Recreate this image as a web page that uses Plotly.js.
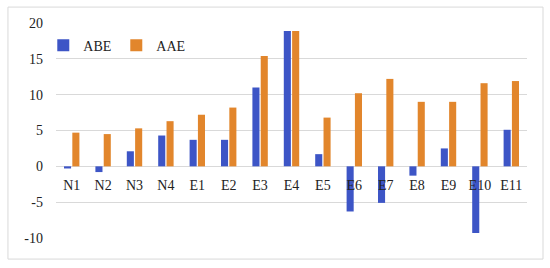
<!DOCTYPE html>
<html>
<head>
<meta charset="utf-8">
<script src="https://cdn.plot.ly/plotly-3.0.1.min.js"></script>
<style>
  body { margin: 0; background: #fff; }
  #plot { width: 550px; height: 268px; }
</style>
</head>
<body>
<div id="plot"></div>
<script>
const categories = ['N1', 'N2', 'N3', 'N4', 'E1', 'E2', 'E3', 'E4', 'E5', 'E6', 'E7', 'E8', 'E9', 'E10', 'E11'];

const abeValues = [-0.3, -0.8, 2.1, 4.3, 3.7, 3.7, 11.0, 18.9, 1.7, -6.3, -5.1, -1.3, 2.5, -9.3, 5.1];

const aaeValues = [4.7, 4.5, 5.3, 6.3, 7.2, 8.2, 15.4, 18.9, 6.8, 10.2, 12.2, 9.0, 9.0, 11.6, 11.9];

const yTicks = [-10, -5, 0, 5, 10, 15, 20];

document.addEventListener('DOMContentLoaded', function () {
  const font = { family: '"Liberation Serif", "DejaVu Serif", serif', size: 14, color: '#222' };

  const traces = [
    {
      x: categories,
      y: abeValues,
      type: 'bar',
      name: 'ABE',
      marker: { color: '#3d55c6' }
    },
    {
      x: categories,
      y: aaeValues,
      type: 'bar',
      name: 'AAE',
      marker: { color: '#e2862c' }
    }
  ];

  const layout = {
    width: 550,
    height: 268,
    margin: { l: 56, r: 23, t: 23, b: 30 },
    paper_bgcolor: '#fff',
    plot_bgcolor: '#fff',
    font: font,
    barmode: 'group',
    bargap: 0.47,
    bargroupgap: 0.15,
    showlegend: true,
    legend: {
      orientation: 'h',
      x: -0.027,
      y: 0.895,
      xanchor: 'left',
      yanchor: 'middle',
      bgcolor: 'rgba(0,0,0,0)',
      font: font,
      itemwidth: 30,
      entrywidth: 28,
      tracegroupgap: 0
    },
    xaxis: {
      type: 'category',
      anchor: 'free',
      position: 1 / 3,
      showline: false,
      showgrid: false,
      zeroline: false,
      ticks: '',
      ticklabelstandoff: 9,
      tickfont: font
    },
    yaxis: {
      range: [-10, 20],
      tickvals: yTicks,
      ticktext: yTicks.map(String),
      showgrid: true,
      gridcolor: '#d9d9d9',
      gridwidth: 1,
      zeroline: true,
      zerolinecolor: '#d9d9d9',
      zerolinewidth: 1,
      showline: false,
      ticks: '',
      ticklabelstandoff: 12,
      tickfont: font
    },
    shapes: [
      {
        type: 'rect',
        xref: 'paper',
        yref: 'paper',
        x0: -0.102,
        x1: 1.034,
        y0: -0.098,
        y1: 1.074,
        line: { color: '#d9d9d9', width: 1 },
        fillcolor: 'rgba(0,0,0,0)',
        layer: 'below'
      }
    ]
  };

  Plotly.newPlot('plot', traces, layout, { displayModeBar: false, staticPlot: true });
});
</script>
</body>
</html>
